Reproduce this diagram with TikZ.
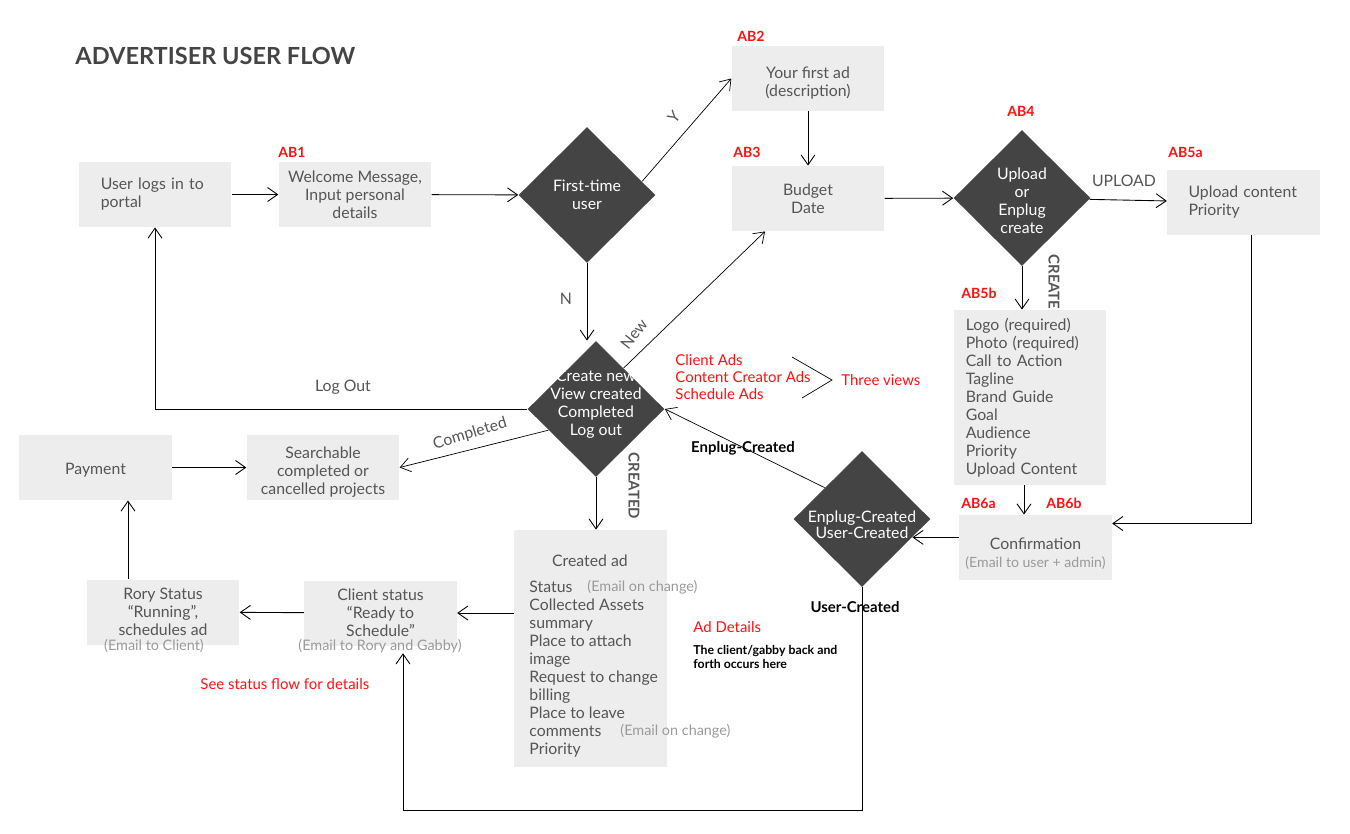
\documentclass[tikz,border=0pt]{standalone}
\usepackage{fontspec}
\setmainfont{Lato}
\usetikzlibrary{shapes.geometric,arrows.meta,calc}
\definecolor{boxgray}{HTML}{EDEDED}
\definecolor{textgray}{HTML}{555555}
\definecolor{darkgray}{HTML}{444444}
\definecolor{notegray}{HTML}{9A9A9A}
\definecolor{abred}{HTML}{FF1010}

\begin{document}
\begin{tikzpicture}[x=0.02cm,y=-0.02cm,line width=0.5pt,
  >={Straight Barb[length=2mm,width=2.8mm]},
  box/.style={fill=boxgray,text=textgray,minimum width=3.05cm,minimum height=1.3cm,
    inner sep=0pt,align=center,font=\fontsize{9}{10.24}\selectfont},
  listbox/.style={box,align=left,inner xsep=#1,text width=3.05cm-2*#1},
  decision/.style={diamond,fill=darkgray,minimum width=2.74cm,minimum height=2.72cm,inner sep=0pt},
  dtext/.style={text=white,align=center,font=\fontsize{9}{10.24}\selectfont},
  tag/.style={text=abred,font=\bfseries\fontsize{8}{9}\selectfont,anchor=west,inner sep=0pt},
  redtext/.style={text=abred,font=\fontsize{8.5}{9.7}\selectfont,inner sep=0pt},
  note/.style={text=notegray,font=\fontsize{8.2}{10}\selectfont,inner sep=0pt},
  edgelabel/.style={text=textgray,font=\fontsize{9}{10}\selectfont,inner sep=0pt},
  darklabel/.style={text=black,font=\bfseries\fontsize{8.5}{10}\selectfont,inner sep=0pt}]
\useasboundingbox (0,0) rectangle (1350,833);

\node[anchor=west,inner sep=0pt,text=darkgray,font=\bfseries\fontsize{13.4}{15}\selectfont] (title) at (75,56) {ADVERTISER USER FLOW};

\node[listbox=0.44cm] (login) at (155,194.5) {User logs in to\\portal};
\node[box] (welcome) at (355,194.5) {Welcome Message,\\Input personal\\details};
\node[tag] (ab1) at (278,152) {AB1};
\node[decision,label={[dtext]center:{First-time\\user}}] (first) at (587,195) {};

\node[box] (yourad) at (808,78.5) {\rule{0pt}{0.4cm}Your first ad\\(description)};
\node[tag] (ab2) at (737,36) {AB2};
\node[box] (budget) at (808,198.5) {Budget\\Date};
\node[tag] (ab3) at (733,152) {AB3};
\node[decision,label={[dtext,yshift=-0.06cm]center:{Upload\\or\\Enplug\\create}}] (upload) at (1022,198) {};
\node[tag,anchor=center] (ab4) at (1021,111) {AB4};
\node[box,align=left,text width=2.2cm] (uploadbox) at (1243.5,202.5) {Upload content\\Priority};
\node[tag] (ab5a) at (1168,152) {AB5a};

\node[listbox=0.24cm,minimum height=3.5cm] (assets) at (1030,397.5) {Logo (required)\\Photo (required)\\Call to Action\\Tagline\\Brand Guide\\Goal\\Audience\\Priority\\Upload Content};
\node[tag] (ab5b) at (961,293) {AB5b};
\node[tag] (ab6a) at (961,503) {AB6a};
\node[tag] (ab6b) at (1046,503) {AB6b};
\node[box] (confirm) at (1035.5,547.5) {\rule{0pt}{0.5cm}Confirmation\\\textcolor{notegray}{\fontsize{8}{10}\selectfont(Email to user + admin)}};

\node[decision,label={[dtext,yshift=-0.12cm,font=\fontsize{9}{8.2}\selectfont]center:{Enplug-Created\\User-Created}}] (source) at (862,519) {};
\node[decision,label={[dtext,yshift=0.1cm]center:{Create new\\View created\\Completed\\Log out}}] (menu) at (596,409) {};

\node[redtext,anchor=west,align=left] (viewlist) at (675,377) {Client Ads\\Content Creator Ads\\Schedule Ads};
\node[redtext,anchor=west] (views) at (841,380) {Three views};
\coordinate (viewstop) at (792,357);
\coordinate (viewsbot) at (802,398);

\node[box] (payment) at (95.5,467.5) {\rule{0pt}{0.35cm}Payment};
\node[box] (searchable) at (323,467.5) {\rule{0pt}{0.4cm}Searchable\\completed or\\cancelled projects};

\node[box,minimum height=4.74cm] (createdad) at (590.5,648.5) {};
\node[text=textgray,font=\fontsize{9}{10.24}\selectfont,inner sep=0pt] (adtitle) at (590,561) {Created ad};
\node[text=textgray,font=\fontsize{9}{10.24}\selectfont,inner sep=0pt,align=left,anchor=north west] (adlist) at (529,581)
  {Status\\Collected Assets\\summary\\Place to attach\\image\\Request to change\\billing\\Place to leave\\comments\\Priority};
\node[note,anchor=west] (statusnote) at (587,587) {(Email on change)};
\node[note,anchor=west] (commentnote) at (620,731) {(Email on change)};
\node[redtext,anchor=west] (addetails) at (693,627) {Ad Details};
\node[anchor=west,align=left,inner sep=0pt,font=\bfseries\fontsize{7}{8.5}\selectfont] (backforth) at (693,657) {The client/gabby back and\\forth occurs here};

\node[box] (client) at (380.5,613) {Client status\\“Ready to\\Schedule”};
\node[note] (clientnote) at (380,646) {(Email to Rory and Gabby)};
\node[box] (rory) at (163,612) {Rory Status\\“Running”,\\schedules ad};
\node[note] (rorynote) at (154,646) {(Email to Client)};
\node[redtext,anchor=west] (statusflow) at (200,684) {See status flow for details};
\coordinate (loopbottom) at (0,810);

\path[draw,->] (login) -- (welcome);
\path[draw,->] (welcome) -- (first);
\path[draw,->,line width=0.4pt] ($(first.east)!0.2!(first.north)$) -- (yourad.west);
\path[draw,->] (yourad) -- (budget);
\path[draw,->] (budget) -- (upload);
\path[draw,->] (upload) -- (uploadbox);
\path[draw,->] (upload.south) -- (upload.south |- assets.north);
\path[draw,->] ([xshift=-0.12cm]assets.south) -- ([xshift=-0.12cm]assets.south |- confirm.north);
\path[draw,->] ([xshift=0.15cm]uploadbox.south) |- ([yshift=0.48cm]confirm.east);
\path[draw,->] (confirm.west |- source.-20) -- (source.-20);
\path[draw,->,line width=0.4pt] (source.140) -- (menu.east);
\path[draw,->] (source.south) -- (source.south |- loopbottom) -| ([xshift=0.46cm]clientnote.south);
\path[draw,->] (first.south) -- (menu.north -| first.south);
\path[draw,->,line width=0.4pt] (menu.56) -- ([xshift=-0.86cm]budget.south);
\path[draw,->] (menu.west) -| (login.south);
\path[draw,->,line width=0.4pt] (menu.204) -- (searchable.east);
\path[draw,->] (menu.south) -- (menu.south |- createdad.north);
\path[draw,->] (createdad.west |- client.east) -- (client.east);
\path[draw,->] (client) -- (rory);
\path[draw,->] ([xshift=-0.7cm]rory.north) -- ([xshift=-0.7cm]rory.north |- payment.south);
\path[draw,->] (payment) -- (searchable);
\path[draw,line width=0.4pt] (viewstop) -- ([xshift=-0.18cm]views.west) -- (viewsbot);

\node[edgelabel,rotate=50] (ylabel) at (674,117) {Y};
\node[edgelabel] (nlabel) at (566,299) {N};
\node[edgelabel,rotate=52] (newlabel) at (634,334) {New};
\node[edgelabel] (logoutlabel) at (343,387) {Log Out};
\node[edgelabel,rotate=17] (completedlabel) at (470,434) {Completed};
\node[edgelabel,rotate=-90,font=\bfseries\fontsize{8.5}{10}\selectfont] (createdlabel) at (634,486) {CREATED};
\node[edgelabel] (uploadlabel) at (1124,181) {UPLOAD};
\node[edgelabel,rotate=-90,font=\bfseries\fontsize{8.5}{10}\selectfont] (createlabel) at (1054,282) {CREATE};
\node[darklabel] (enpluglabel) at (743,448) {Enplug-Created};
\node[darklabel] (userlabel) at (855,607) {User-Created};
\end{tikzpicture}
\end{document}
